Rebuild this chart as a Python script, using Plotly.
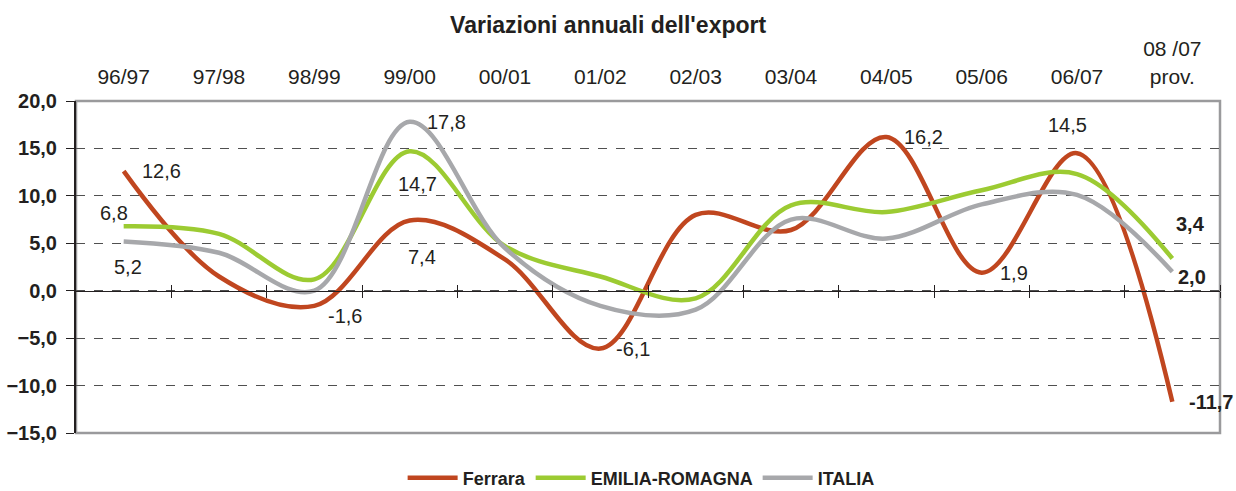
import plotly.graph_objects as go

categories = ["96/97", "97/98", "98/99", "99/00", "00/01", "01/02", "02/03",
              "03/04", "04/05", "05/06", "06/07", "08 /07<br>prov."]
ferrara = [12.6, 1.5, -1.6, 7.4, 3.3, -6.1, 8.0, 6.4, 16.2, 1.9, 14.5, -11.7]
emilia = [6.8, 6.0, 1.2, 14.7, 4.7, 1.5, -0.8, 9.0, 8.3, 10.6, 12.3, 3.4]
italia = [5.2, 4.0, 0.0, 17.8, 4.5, -1.6, -2.0, 7.5, 5.5, 9.1, 10.1, 2.0]
y_ticks = [-15, -10, -5, 0, 5, 10, 15, 20]

series = [("Ferrara", ferrara, "#C0461F"),
          ("EMILIA-ROMAGNA", emilia, "#9CCB32"),
          ("ITALIA", italia, "#A7A8AB")]

# data labels: (series index, point index, xshift, yshift, bold)
labels = [
    (0, 0, 38, 0, False), (1, 0, -10, 13, False), (2, 0, 4, -26, False),
    (0, 2, 31, -10, False), (0, 3, 12, -36, False), (1, 3, 8, -33, False),
    (2, 3, 37, 0, False), (0, 5, 33, 0, False), (0, 8, 37, 0, False),
    (0, 9, 32, 0, False), (0, 10, -10, 28, False), (1, 11, 18, 34, True),
    (2, 11, 20, -5, True), (0, 11, 39, 0, True),
]

x_idx = list(range(len(categories)))
FONT = "Liberation Sans, Arial, Helvetica, sans-serif"
TXT = "#231F20"

fig = go.Figure()
for name, vals, color in series:
    fig.add_trace(go.Scatter(
        x=x_idx, y=vals, name=f"<b>{name}</b>", mode="lines",
        line=dict(color=color, width=4.5, shape="spline", smoothing=1.0),
        hoverinfo="skip"))

# dummy traces for the zero-line axes carrying the category separators
for ax in ("x2", "x3"):
    fig.add_trace(go.Scatter(x=[None], y=[None], xaxis=ax, yaxis="y",
                             showlegend=False, hoverinfo="skip"))

annotations = []
for si, pi, dx, dy, bold in labels:
    v = series[si][1][pi]
    txt = f"{v:.1f}".replace(".", ",")
    if bold:
        txt = f"<b>{txt}</b>"
    annotations.append(dict(x=x_idx[pi], y=v, xref="x", yref="y", text=txt,
                            showarrow=False, xshift=dx, yshift=dy,
                            font=dict(family=FONT, size=20, color=TXT)))

sep_vals = [i + 0.5 for i in x_idx]
xr = [-0.5, len(categories) - 0.5]
zero_pos = (0 - y_ticks[0]) / (y_ticks[-1] - y_ticks[0])

fig.update_layout(
    width=1236, height=491,
    margin=dict(l=76, r=16, t=101, b=58, autoexpand=False),
    paper_bgcolor="white", plot_bgcolor="white",
    separators=",.",
    title=dict(text="<b>Variazioni annuali dell'export</b>", x=0.492,
               xanchor="center", y=0.949, yanchor="middle",
               font=dict(family=FONT, size=23, color=TXT)),
    xaxis=dict(range=xr, tickvals=x_idx, ticktext=categories, side="top",
               showgrid=False, zeroline=False, showline=False, ticks="",
               ticklabelstandoff=12,
               tickfont=dict(family=FONT, size=21, color=TXT)),
    xaxis2=dict(overlaying="x", anchor="free", position=zero_pos, side="bottom",
                range=xr, tickvals=sep_vals, ticks="outside", ticklen=6,
                tickcolor="#231F20", tickwidth=1.3, showticklabels=False,
                showline=True, linecolor="#231F20", linewidth=1.3,
                showgrid=False, zeroline=False),
    xaxis3=dict(overlaying="x", anchor="free", position=zero_pos, side="top",
                range=xr, tickvals=sep_vals, ticks="outside", ticklen=6,
                tickcolor="#231F20", tickwidth=1.3, showticklabels=False,
                showline=False, showgrid=False, zeroline=False),
    yaxis=dict(range=[y_ticks[0], y_ticks[-1]], tickvals=y_ticks,
               tickformat=".1f", ticks="outside", ticklen=8,
               tickcolor="#231F20", showline=True, linecolor="#231F20",
               linewidth=2, showgrid=True, gridcolor="#505050",
               griddash="dash", gridwidth=1, zeroline=False,
               ticklabelstandoff=5,
               tickfont=dict(family=FONT, size=20, color=TXT, weight="bold")),
    showlegend=True,
    legend=dict(orientation="h", x=0.494, xanchor="center", y=-0.136,
                yanchor="middle", font=dict(family=FONT, size=18, color=TXT),
                itemwidth=50, traceorder="normal"),
    annotations=annotations,
    shapes=[dict(type="rect", xref="paper", yref="paper", x0=0, x1=1, y0=0,
                 y1=1, line=dict(color="#9A9A9C", width=2.5),
                 layer="between")],
)

fig.write_html(
    "out.html",
    config={"displayModeBar": False},
    post_script="document.body.style.margin='0';"
                "document.body.style.overflow='hidden';")
